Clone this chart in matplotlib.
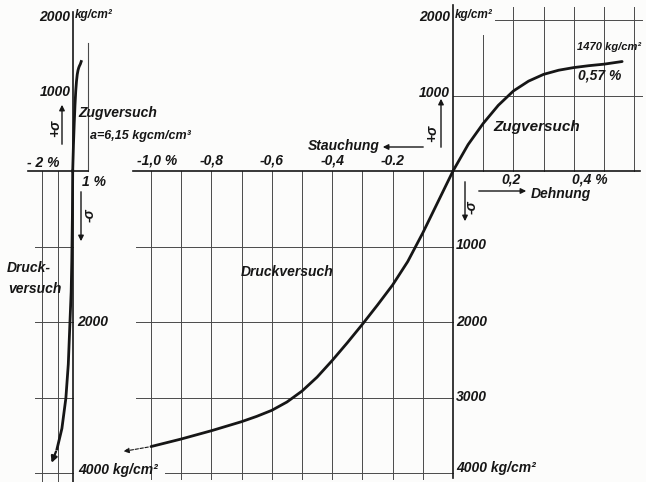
import matplotlib.pyplot as plt
from matplotlib.patches import FancyArrowPatch

W, H = 646, 482
INK = '#161616'
GRID = '#4a4a4a'
FONT = dict(family=['Liberation Sans Narrow', 'Liberation Sans', 'DejaVu Sans'],
            style='italic', weight='bold', color=INK)

# Zugversuch (tension): strain in %, stress in kg/cm2
zug_strain = [0, 0.05, 0.10, 0.15, 0.20, 0.25, 0.30, 0.35, 0.40, 0.45, 0.50, 0.56]
zug_stress = [0, 350, 630, 870, 1060, 1190, 1280, 1335, 1370, 1395, 1415, 1450]

# Druckversuch (compression), right diagram (negative = Stauchung / -sigma)
druck_strain = [0, -0.05, -0.10, -0.15, -0.20, -0.25, -0.30, -0.35, -0.40, -0.45,
                -0.50, -0.55, -0.60, -0.65, -0.70, -0.80, -0.90, -1.00]
druck_stress = [0, -410, -820, -1200, -1510, -1775, -2030, -2275, -2510, -2730,
                -2915, -3060, -3170, -3250, -3320, -3440, -3550, -3650]
druck_tail_strain = [-1.00, -1.10]
druck_tail_stress = [-3650, -3720]

# left overview diagram, compression up to large strains
links_strain = [0, -0.02, -0.06, -0.10, -0.18, -0.29, -0.45, -0.71, -1.03]
links_stress = [0, -600, -1200, -1600, -2000, -2560, -3010, -3410, -3680]
links_tip = (-1.46, -3900)

# grid values and tick labels
grid_comp_x = [-1.0, -0.9, -0.8, -0.7, -0.6, -0.5, -0.4, -0.3, -0.2, -0.1]
grid_tens_x = [0.1, 0.2, 0.3, 0.4, 0.5, 0.6]
grid_comp_y = [-1000, -2000, -3000, -4000]
grid_tens_y = [1000, 2000]
comp_ticks = [-1.0, -0.8, -0.6, -0.4, -0.2]
comp_labels = ['-1,0 %', '-0,8', '-0,6', '-0,4', '-0.2']
links_grid_x = [-2, -1]

# pixel scales of the drawing
Y0 = 171          # pixel row of the zero line
SY = 0.0755       # px per kg/cm2
ylim = ((Y0 - H) / SY, Y0 / SY)


def fig_text(x, y, s, size=10, ha='left', va='center', **kw):
    fig.text(x / W, 1 - y / H, s, fontsize=size, ha=ha, va=va, **FONT, **kw)


def fig_arrow(x0, y0, x1, y1):
    fig.add_artist(FancyArrowPatch(
        (x0 / W, 1 - y0 / H), (x1 / W, 1 - y1 / H), transform=fig.transFigure,
        arrowstyle='-|>', mutation_scale=8, lw=1.0, color=INK))


fig = plt.figure(figsize=(W / 100, H / 100), dpi=100)
fig.patch.set_facecolor('#fcfcfb')

# ---------- right diagram ----------
ax = fig.add_axes([0, 0, 1, 1])
SX = 302  # px per 1 %
ax.set_xlim(-453 / SX, (W - 453) / SX)
ax.set_ylim(*ylim)
ax.axis('off')

for gx in grid_comp_x:
    ax.plot([gx, gx], [0, -4080], color=GRID, lw=0.7)
for gx in grid_tens_x:
    ax.plot([gx, gx], [0, 1800 if gx == 0.1 else 2170], color=GRID, lw=0.7)
for gy in grid_comp_y:
    ax.plot([-0.955 if gy == -4000 else -1.05, 0], [gy, gy], color=GRID, lw=0.7)
for gy in grid_tens_y:
    ax.plot([0.14 if gy == 2000 else 0, 0.625], [gy, gy], color=GRID, lw=0.7)

ax.plot([0, 0], [-4070, 2200], color=INK, lw=1.2)
ax.plot([-1.06, 0.62], [0, 0], color=INK, lw=1.2)

ax.plot(zug_strain, zug_stress, color=INK, lw=2.0, solid_capstyle='round')
ax.plot(druck_strain, druck_stress, color=INK, lw=2.0, solid_capstyle='round')
ax.annotate('', xy=(druck_tail_strain[1], druck_tail_stress[1]),
            xytext=(druck_tail_strain[0], druck_tail_stress[0]),
            arrowprops=dict(arrowstyle='-|>', lw=0.8, ls=(0, (3, 1.5)),
                            color=INK, mutation_scale=8))

for t, lab in zip(comp_ticks, comp_labels):
    ax.text(t + (0.02 if '%' in lab else 0), 40, lab, ha='center', va='bottom',
            fontsize=10, **FONT)

# ---------- left diagram ----------
ax2 = fig.add_axes([0, 0, 1, 1])
SX2 = 15.2
ax2.set_xlim(-72.7 / SX2, (W - 72.7) / SX2)
ax2.set_ylim(*ylim)
ax2.axis('off')

for gx in links_grid_x:
    ax2.plot([gx, gx], [0, ylim[0]], color=GRID, lw=0.7)
for gy in grid_comp_y:
    ax2.plot([-2.48, 0], [gy, gy], color=GRID, lw=0.7)
ax2.plot([1, 1], [0, 1700], color=GRID, lw=0.8)
ax2.plot([0, 0], [ylim[0], 2100], color=INK, lw=1.2)
ax2.plot([-2.95, 1], [0, 0], color=INK, lw=1.2)

ax2.plot(zug_strain, zug_stress, color=INK, lw=2.0)
ax2.plot(links_strain, links_stress, color=INK, lw=2.0)
ax2.annotate('', xy=links_tip, xytext=(links_strain[-1], links_stress[-1]),
             arrowprops=dict(arrowstyle='-|>', lw=1.6, color=INK, mutation_scale=9))

# ---------- labels (right) ----------
fig_text(450, 17, '2000', ha='right')
fig_text(455, 15, 'kg/cm²', size=8.5)
fig_text(450, 93, '1000', ha='right')
fig_text(577, 47, '1470 kg/cm²', size=8)
fig_text(578, 75, '0,57 %', size=10)
fig_text(493, 127, 'Zugversuch', size=11)
fig_arrow(441, 150, 441, 96)
fig_text(432, 133, '+σ', size=10, ha='center', rotation=90)
fig_text(308, 146, 'Stauchung', size=10)
fig_arrow(426, 147, 380, 147)
fig_text(511, 180, '0,2', size=10, ha='center')
fig_text(572, 180, '0,4 %', size=10)
fig_arrow(476, 191, 529, 191)
fig_text(531, 194, 'Dehnung', size=10)
fig_arrow(465, 179, 465, 224)
fig_text(472, 207, '-σ', size=10, ha='center', rotation=90)
fig_text(241, 272, 'Druckversuch', size=10)
for lab, y in zip(['1000', '2000', '3000'], [245, 322, 397]):
    fig_text(456, y, lab)
fig_text(456, 468, '4000 kg/cm²')

# ---------- labels (left) ----------
fig_text(70, 17, '2000', ha='right')
fig_text(75, 15, 'kg/cm²', size=8.5)
fig_text(71, 92, '1000', ha='right')
fig_arrow(62, 147, 62, 102)
fig_text(55, 128, '+σ', size=10, ha='center', rotation=90)
fig_text(78, 113, 'Zugversuch', size=10)
fig_text(90, 136, 'a=6,15 kgcm/cm³', size=9)
fig_text(27, 163, '- 2 %', size=10)
fig_text(82, 182, '1 %', size=10)
fig_arrow(81, 189, 81, 244)
fig_text(90, 215, '-σ', size=10, ha='center', rotation=90)
fig_text(7, 268, 'Druck-', size=10)
fig_text(8, 289, 'versuch', size=10)
fig_text(77, 322, '2000')
fig_text(78, 470, '4000 kg/cm²')

fig.savefig('out.png', dpi=100)
